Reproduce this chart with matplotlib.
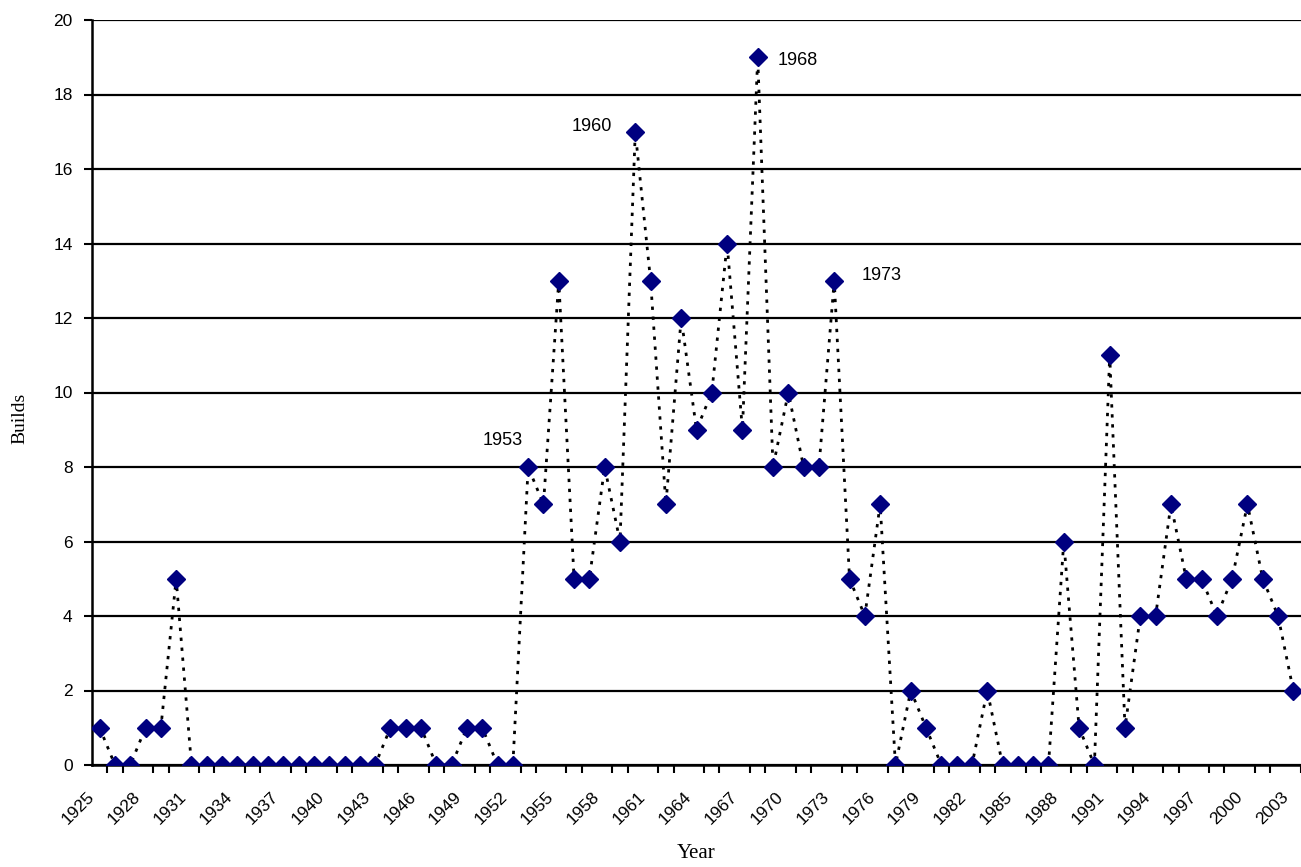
import matplotlib
matplotlib.use("Agg")
from matplotlib import pyplot as plt

### data
years = list(range(1925, 2004))
builds = [1, 0, 0, 1, 1, 5, 0, 0, 0, 0, 0, 0, 0, 0, 0, 0, 0, 0, 0,
          1, 1, 1, 0, 0, 1, 1, 0, 0, 8, 7, 13, 5, 5, 8, 6, 17, 13, 7,
          12, 9, 10, 14, 9, 19, 8, 10, 8, 8, 13, 5, 4, 7, 0, 2, 1, 0,
          0, 0, 2, 0, 0, 0, 0, 6, 1, 0, 11, 1, 4, 4, 7, 5, 5, 4, 5,
          7, 5, 4, 2]
labelled = [1953, 1960, 1968, 1973]
# offsets of the peak labels (points) and their horizontal alignment
label_offsets = [(-4, 19), (-16.5, 4), (14, -2), (20, 3.5)]
label_ha = ['right', 'right', 'left', 'left']

plt.rcParams['font.family'] = ['Liberation Sans', 'DejaVu Sans']

fig = plt.figure(figsize=(13.01, 8.67), dpi=100)
ax = fig.add_axes([92/1301, 102/867, 1209/1301, 745/867])

x = list(range(len(years)))
ax.plot(x, builds, color='black', linewidth=2.0, linestyle=(0, (1.2, 2.4)),
        marker='D', markersize=9, markerfacecolor='#000080',
        markeredgecolor='#000080', zorder=3)

### annotations for the peak years
for yr, off, ha in zip(labelled, label_offsets, label_ha):
    i = years.index(yr)
    ax.annotate(str(yr), (i, builds[i]), xytext=off, textcoords='offset points',
                ha=ha, va='center', fontsize=13)

ax.set_xlim(-0.5, len(years) - 0.5)
ax.set_ylim(0, 20)
ax.set_yticks(range(0, 21, 2))
ax.yaxis.grid(True, color='black', linewidth=1.6)
ax.set_axisbelow(True)

# year labels every 3rd category, right end sitting at the category's left edge
tick_pos = [i for i in x if (years[i] - 1925) % 3 == 0]
ax.set_xticks([i - 0.5 for i in tick_pos])
ax.set_xticklabels([str(years[i]) for i in tick_pos], rotation=45, ha='right',
                   va='center', rotation_mode='anchor', fontsize=12.5)
ax.set_xticks([i - 0.5 for i in range(len(years) + 1)], minor=True)
ax.tick_params(axis='x', which='major', length=0, pad=21)
ax.tick_params(axis='x', which='minor', length=6, width=1.5, color='black')
ax.tick_params(axis='y', length=6, width=1.5, labelsize=12.5, pad=8)

for s in ['top', 'right']:
    ax.spines[s].set_visible(False)
for s in ['left', 'bottom']:
    ax.spines[s].set_linewidth(1.8)

ax.set_ylabel('Builds', family='Liberation Serif', fontsize=14, va='center')
ax.yaxis.set_label_coords(-72/1209, 347/745)
ax.set_xlabel('Year', family='Liberation Serif', fontsize=15, va='center')
ax.xaxis.set_label_coords(0.5, -89/745)

fig.savefig('out.png', dpi=100, facecolor='white')
